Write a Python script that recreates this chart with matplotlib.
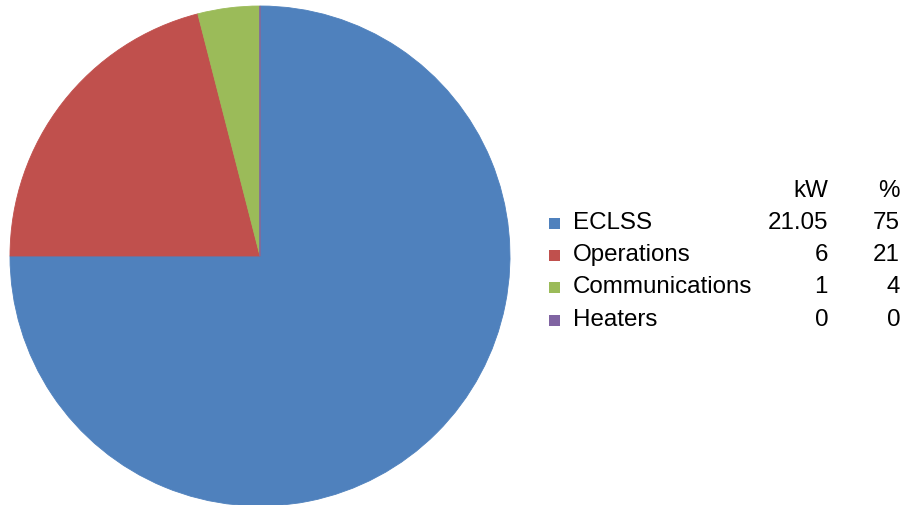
import matplotlib
matplotlib.use("Agg")
import matplotlib.pyplot as plt
from matplotlib.patches import Rectangle

# Power budget by subsystem
categories = ["ECLSS", "Operations", "Communications", "Heaters"]
kw_labels = ["21.05", "6", "1", "0"]
pct_values = [75, 21, 4, 0]
colors = ["#4F81BD", "#C0504D", "#9BBB59", "#8064A2"]

plt.rcParams["font.family"] = ["Liberation Sans", "DejaVu Sans"]

W, H = 902, 505
fig = plt.figure(figsize=(W / 100, H / 100), dpi=100)

# Pie axes: centre ~ (260, 256) px, radius ~ 250 px
ax = fig.add_axes([10 / W, (H - 506) / H, 500 / W, 500 / H])
wedges, _ = ax.pie(pct_values, colors=colors, startangle=90, counterclock=False,
                   radius=1.0, wedgeprops=dict(linewidth=0.6))
for w, c in zip(wedges, colors):
    w.set_edgecolor(c)
wedges[-1].set_linewidth(1.2)
ax.set_xlim(-1, 1)
ax.set_ylim(-1, 1)
ax.set_aspect("equal")
ax.axis("off")

# Legend table drawn in pixel coords
lx = fig.add_axes([0, 0, 1, 1])
lx.set_xlim(0, W)
lx.set_ylim(H, 0)
lx.axis("off")

fs = 17.4
lx.text(828, 191, "kW", ha="right", va="center", fontsize=fs)
lx.text(900, 191, "%", ha="right", va="center", fontsize=fs)
row_y = [223, 255, 287, 320]
for y, name, c, kw, pct in zip(row_y, categories, colors, kw_labels, pct_values):
    lx.add_patch(Rectangle((549, y - 5), 10.5, 10.5, facecolor=c, edgecolor="none"))
    lx.text(573, y, name, ha="left", va="center", fontsize=fs)
    lx.text(828, y, kw, ha="right", va="center", fontsize=fs)
    lx.text(900, y, str(pct), ha="right", va="center", fontsize=fs)

fig.savefig("out.png", dpi=100)
